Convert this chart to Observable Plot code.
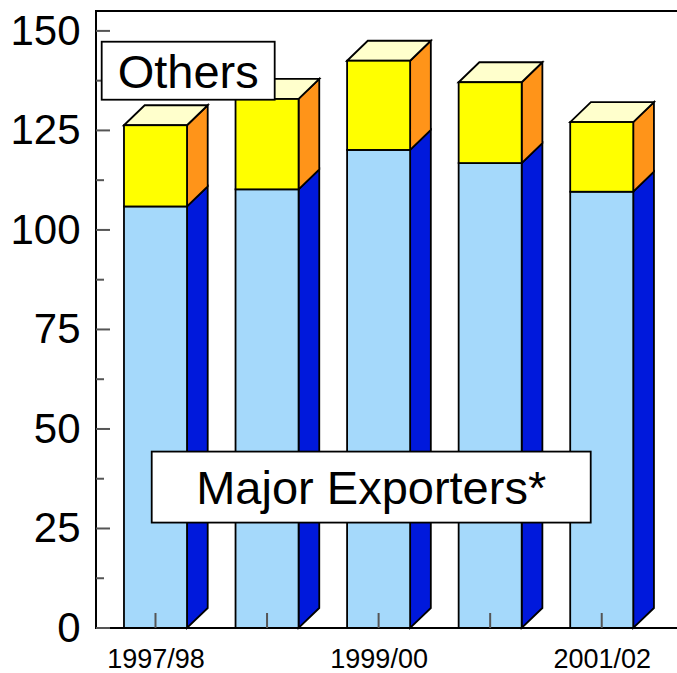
<!DOCTYPE html>
<html>
<head>
<meta charset="utf-8">
<script src="https://cdn.jsdelivr.net/npm/d3@7"></script>
<script src="https://cdn.jsdelivr.net/npm/@observablehq/plot@0.6"></script>
<style>
  html, body { margin: 0; padding: 0; background: #fff; }
  #chart svg { display: block; font-family: "Liberation Sans", Arial, sans-serif; }
  #chart g[aria-label^="y-axis"] { font-size: 42px; fill: #000; }
  #chart g[aria-label^="x-axis"] { font-size: 27px; fill: #000; }
</style>
</head>
<body>
<div id="chart"></div>
<script>
// ---- data ----
const years = ["1997/98", "1998/99", "1999/00", "2000/01", "2001/02"];
const majorExporters = [105.9, 110.2, 120.1, 116.8, 109.6];
const others = [20.4, 22.7, 22.4, 20.3, 17.5];
const seriesNames = ["Major Exporters*", "Others"];
const yTicks = [0, 25, 50, 75, 100, 125, 150];
const xTickLabels = ["1997/98", "1999/00", "2001/02"];
const annotations = [
  {label: "Others", at: "1997/98", value: 140},
  {label: "Major Exporters*", at: "1999/00", value: 35.4}
];

// ---- styles ----
const frontColors = ["#a5d9fb", "#ffff00"];
const sideColors = ["#0019dc", "#ff9419"];
const topColor = "#ffffcc";
const depthX = 20.7, depthY = 20;
const boxStyle = {
  "Others": {dx: 32.7, w: 173, h: 58},
  "Major Exporters*": {dx: -7.4, w: 439, h: 71}
};

const rows = [];
years.forEach((yr, i) => {
  rows.push({year: yr, series: seriesNames[0], value: majorExporters[i]});
  rows.push({year: yr, series: seriesNames[1], value: others[i]});
});

const svgNS = "http://www.w3.org/2000/svg";
function el(tag, attrs) {
  const e = document.createElementNS(svgNS, tag);
  for (const k in attrs) e.setAttribute(k, attrs[k]);
  return e;
}

// 3D faces (side + top) using Plot scales
function faces(index, scales, values, dimensions) {
  const x = scales.x, y = scales.y;
  const bw = x.bandwidth ? x.bandwidth() : 63;
  const g = el("g", {"aria-label": "bar-depth"});
  years.forEach((yr, i) => {
    const x0 = x(yr), x1 = x0 + bw;
    const ySegs = [[0, majorExporters[i]], [majorExporters[i], majorExporters[i] + others[i]]];
    ySegs.forEach(([a, b], s) => {
      const ya = y(a), yb = y(b);
      g.appendChild(el("polygon", {
        points: `${x1},${ya} ${x1},${yb} ${x1 + depthX},${yb - depthY} ${x1 + depthX},${ya - depthY}`,
        fill: sideColors[s], stroke: "#000", "stroke-width": 1.8, "stroke-linejoin": "miter"
      }));
    });
    const yt = y(majorExporters[i] + others[i]);
    g.appendChild(el("polygon", {
      points: `${x0},${yt} ${x0 + depthX},${yt - depthY} ${x1 + depthX},${yt - depthY} ${x1},${yt}`,
      fill: topColor, stroke: "#000", "stroke-width": 1.8
    }));
  });
  return g;
}

// frame lines and inward ticks
function decor(index, scales, values, dimensions) {
  const x = scales.x, y = scales.y;
  const bw = x.bandwidth ? x.bandwidth() : 63;
  const {width, marginLeft, marginRight} = dimensions;
  const g = el("g", {"aria-label": "frame"});
  const [d0, d1] = y.domain();
  const L = marginLeft, R = width - marginRight;
  g.appendChild(el("path", {
    d: `M${R},${y(d1)}H${L}V${y(d0)}H${R}`,
    fill: "none", stroke: "#000", "stroke-width": 2
  }));
  yTicks.forEach(v => {
    g.appendChild(el("line", {x1: L, x2: L + 14, y1: y(v), y2: y(v), stroke: "#555", "stroke-width": 2}));
  });
  d3.range(12.5, 150, 25).forEach(v => {
    g.appendChild(el("line", {x1: L, x2: L + 8, y1: y(v), y2: y(v), stroke: "#555", "stroke-width": 2}));
  });
  years.forEach(yr => {
    const cx = x(yr) + bw / 2;
    g.appendChild(el("line", {x1: cx, x2: cx, y1: y(0), y2: y(0) - 15, stroke: "#555", "stroke-width": 2}));
  });
  return g;
}

// label boxes
function labels(index, scales, values, dimensions) {
  const x = scales.x, y = scales.y;
  const bw = x.bandwidth ? x.bandwidth() : 63;
  const g = el("g", {"aria-label": "labels"});
  annotations.forEach(a => {
    const st = boxStyle[a.label];
    const cx = x(a.at) + bw / 2 + st.dx, cy = y(a.value);
    g.appendChild(el("rect", {
      x: cx - st.w / 2, y: cy - st.h / 2, width: st.w, height: st.h,
      fill: "#fff", stroke: "#000", "stroke-width": 1.8
    }));
    const t = el("text", {
      x: cx, y: cy + 17, "text-anchor": "middle", "font-size": 47,
      "font-family": "Liberation Sans, Arial, sans-serif", fill: "#000"
    });
    t.textContent = a.label;
    g.appendChild(t);
  });
  return g;
}

const chart = Plot.plot({
  width: 677,
  height: 673,
  marginLeft: 96,
  marginRight: 0,
  marginTop: 11,
  marginBottom: 45,
  style: {fontFamily: "Liberation Sans, Arial, sans-serif", background: "#fff"},
  x: {
    domain: years,
    paddingInner: 0.435,
    paddingOuter: 0.3215,
    align: 0.39,
    round: false,
    ticks: xTickLabels,
    tickSize: 0,
    tickPadding: 20,
    label: null
  },
  y: {
    domain: [0, 155],
    ticks: yTicks,
    tickSize: 0,
    tickPadding: 16,
    label: null
  },
  color: {domain: seriesNames, range: frontColors},
  marks: [
    faces,
    Plot.barY(rows, {
      x: "year", y: "value", fill: "series",
      stroke: "#000", strokeWidth: 1.8,
      insetLeft: 0, insetRight: 0
    }),
    decor,
    labels
  ]
});
document.getElementById("chart").appendChild(chart);
</script>
</body>
</html>
